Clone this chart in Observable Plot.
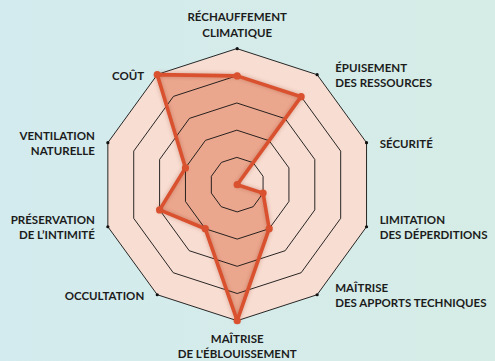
<!DOCTYPE html>
<html><head><meta charset="utf-8">
<script src="https://cdn.jsdelivr.net/npm/d3@7"></script>
<script src="https://cdn.jsdelivr.net/npm/@observablehq/plot@0.6"></script>
<style>
html,body{margin:0;padding:0;}
body{width:495px;height:361px;background:linear-gradient(90deg,#d3ebee,#d6ece6);overflow:hidden}
svg{display:block}
</style></head><body><div id="chart"></div>
<script>
const axes = [
  "RÉCHAUFFEMENT\nCLIMATIQUE",
  "ÉPUISEMENT\nDES RESSOURCES",
  "SÉCURITÉ",
  "LIMITATION\nDES DÉPERDITIONS",
  "MAÎTRISE\nDES APPORTS TECHNIQUES",
  "MAÎTRISE\nDE L'ÉBLOUISSEMENT",
  "OCCULTATION",
  "PRÉSERVATION\nDE L’INTIMITÉ",
  "VENTILATION\nNATURELLE",
  "COÛT"
];
const values = [4, 4, 0, 1, 2, 5, 2, 3, 2, 5];
const levels = [1, 2, 3, 4, 5];

const maxLevel = d3.max(levels);
const n = axes.length;
const W = 495, H = 361;
const cx = 236.7, cy = 184.2, R = 136;
const unit = R / maxLevel;

const ang = i => i * 2 * Math.PI / n;
const X = (i, r) => r * Math.sin(ang(i));
const Y = (i, r) => r * Math.cos(ang(i));

const ringPts = levels.flatMap(l => axes.map((a, i) => ({level: l, i, x: X(i, l), y: Y(i, l)})));
const outerPts = axes.map((a, i) => ({i, x: X(i, maxLevel), y: Y(i, maxLevel)}));
const dataPts = values.map((v, i) => ({i, v, x: X(i, v), y: Y(i, v)}));

const labelPts = axes.map((a, i) => {
  const s = Math.sin(ang(i)), c = Math.cos(ang(i));
  let side, x = X(i, maxLevel), y = Y(i, maxLevel);
  if (Math.abs(s) < 0.01) {
    side = c > 0 ? "top" : "bottom";
    y += (c > 0 ? 12 : -11) / unit;
  } else if (s > 0) {
    side = "right";
    x += (10 + 10 * Math.abs(c)) / unit;
  } else {
    side = "left";
    x -= 13 / unit;
  }
  return {label: a, x, y, side};
});

const font = {fontFamily: "Lato", fontWeight: 700, fontSize: 11.5, lineHeight: 1.33, fill: "#1c1c1c"};

const plot = Plot.plot({
  width: W, height: H,
  margin: 0,
  x: {domain: [-cx / unit, (W - cx) / unit], range: [0, W], axis: null},
  y: {domain: [(cy - H) / unit, cy / unit], range: [H, 0], axis: null},
  style: {background: "transparent", overflow: "visible"},
  marks: [
    Plot.line(outerPts, {x: "x", y: "y", curve: "linear-closed", fill: "#f8ddd2", stroke: "none"}),
    Plot.line(dataPts, {x: "x", y: "y", curve: "linear-closed", fill: "#eba78e", stroke: "none"}),
    Plot.line(ringPts, {x: "x", y: "y", z: "level", curve: "linear-closed", stroke: "#111", strokeWidth: 0.9}),
    Plot.dot(outerPts, {x: "x", y: "y", r: 1.6, fill: "#111"}),
    Plot.line(dataPts, {x: "x", y: "y", curve: "linear-closed", stroke: "#d9512f", strokeWidth: 3.6, strokeLinejoin: "round"}),
    Plot.dot(dataPts, {x: "x", y: "y", r: 3.6, fill: "#d9512f"}),
    Plot.text(labelPts, {filter: d => d.side === "top", x: "x", y: "y", text: "label", textAnchor: "middle", lineAnchor: "bottom", ...font}),
    Plot.text(labelPts, {filter: d => d.side === "bottom", x: "x", y: "y", text: "label", textAnchor: "middle", lineAnchor: "top", ...font}),
    Plot.text(labelPts, {filter: d => d.side === "right", x: "x", y: "y", text: "label", textAnchor: "start", lineAnchor: "middle", ...font}),
    Plot.text(labelPts, {filter: d => d.side === "left", x: "x", y: "y", text: "label", textAnchor: "end", lineAnchor: "middle", ...font})
  ]
});
document.getElementById("chart").append(plot);
const lines = plot.querySelectorAll('g[aria-label="line"]');
if (lines[3]) lines[3].style.filter = "drop-shadow(0 0 2px rgba(140,50,20,0.35))";
</script></body></html>
